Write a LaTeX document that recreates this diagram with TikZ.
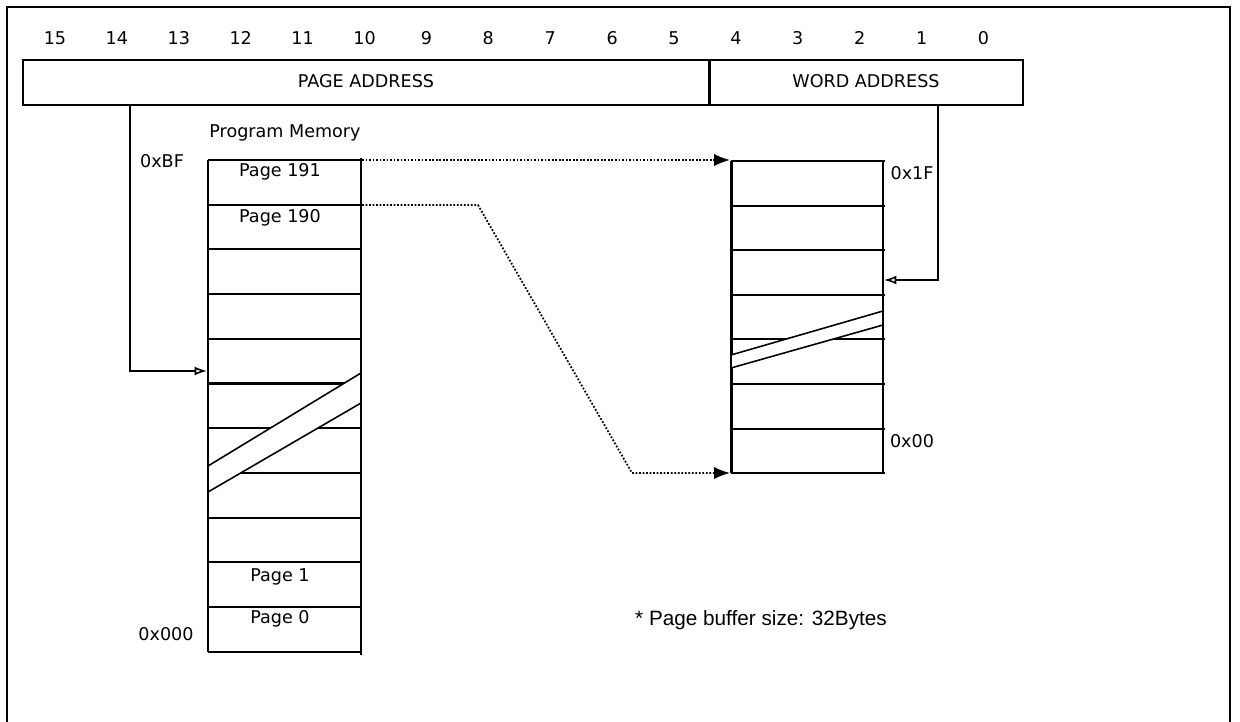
\documentclass[tikz,border=0pt]{standalone}
\usepackage{fontspec}
\setmainfont{DejaVu Sans}
\newfontfamily\notefont{Liberation Sans}
\usetikzlibrary{arrows.meta}
\tikzstyle{every picture}=[>=latex]
\tikzstyle{bitnum}=[inner sep=0pt, font=\fontsize{10}{11}\selectfont]
\tikzstyle{lbl}=[inner sep=0pt, font=\fontsize{10}{11}\selectfont]
\tikzstyle{cell}=[line width=1.2pt]
\tikzstyle{thick edge}=[line width=1.7pt]
\tikzstyle{conn}=[line width=0.9pt, -{Latex[length=7pt,width=5pt,open]}]
\tikzstyle{dotlink}=[line width=1pt, dash pattern=on 1pt off 1pt, -{Latex[length=9pt,width=7pt]}]

\begin{document}
\begin{tikzpicture}[x=0.02cm,y=-0.02cm]
\useasboundingbox (0,0) rectangle (1240,722);
% outer frame, open at the bottom
\draw[line width=1.3pt] (7,722) -- (7,7) -- (1230,7) -- (1230,722);

% bit numbers
\foreach \b in {0,...,15}
  \node[bitnum] (bit\b) at ({55+(15-\b)*61.9},38) {\b};

% address register
\draw[cell] (23,60) rectangle (1023,105);
\draw[thick edge] (709,60) -- (709,105);
\node[lbl] (pageaddr) at (366,81) {PAGE ADDRESS};
\node[lbl] (wordaddr) at (866,81) {WORD ADDRESS};

% program memory
\node[lbl] (progmem) at (285,133) {Program Memory};
\foreach \i in {0,...,11}
  \draw[cell] (208,{160+44.7*\i}) -- (361,{160+44.7*\i});
\draw[cell] (208,160) -- (208,652);
\draw[thick edge] (361,158) -- (361,655);
% break in the column
\fill[white] (209,466) -- (360,373) -- (360,403) -- (209,492) -- cycle;
\draw[line width=0.9pt] (208,466) -- (361,373) -- (361,403) -- (208,492) -- cycle;

\node[lbl] (pg191) at (280,172) {Page 191};
\node[lbl] (pg190) at (280,218) {Page 190};
\node[lbl] (pg1) at (280,577) {Page 1};
\node[lbl] (pg0) at (280,619) {Page 0};
\node[lbl] (topaddr) at (162,161) {0xBF};
\node[lbl] (botaddr) at (166,634) {0x000};

% page buffer
\foreach \i in {0,...,7}
  \draw[cell] (731,{161+44.6*\i}) -- (885,{161+44.6*\i});
\draw[thick edge] (731,161) -- (731,473);
\draw[cell] (883,161) -- (883,473);
% break in the buffer
\fill[white] (732,355) -- (882,311) -- (882,325) -- (732,368) -- cycle;
\draw[line width=0.9pt] (731,355) -- (883,311) -- (883,325) -- (731,368) -- cycle;

\node[lbl] (buftop) at (912,173) {0x1F};
\node[lbl] (bufbot) at (912,441) {0x00};

\node[inner sep=0pt, font=\notefont\fontsize{11.8}{12}\selectfont] (note) at (761,620)
  {* Page buffer size: 32Bytes};

% connectors
\coordinate (pagetap) at (130,105);
\coordinate (pagein) at (207,371);
\coordinate (wordtap) at (938,105);
\coordinate (wordin) at (884,280);
\coordinate (from191) at (362,160);
\coordinate (to191) at (730,160);
\coordinate (from190) at (362,205);
\coordinate (to190) at (730,473);
\draw[conn] (pagetap) |- (pagein);
\draw[conn] (wordtap) |- (wordin);
\draw[dotlink] (from191) -- (to191);
\draw[dotlink] (from190) -- (478,205) -- (632,473) -- (to190);
\end{tikzpicture}
\end{document}
